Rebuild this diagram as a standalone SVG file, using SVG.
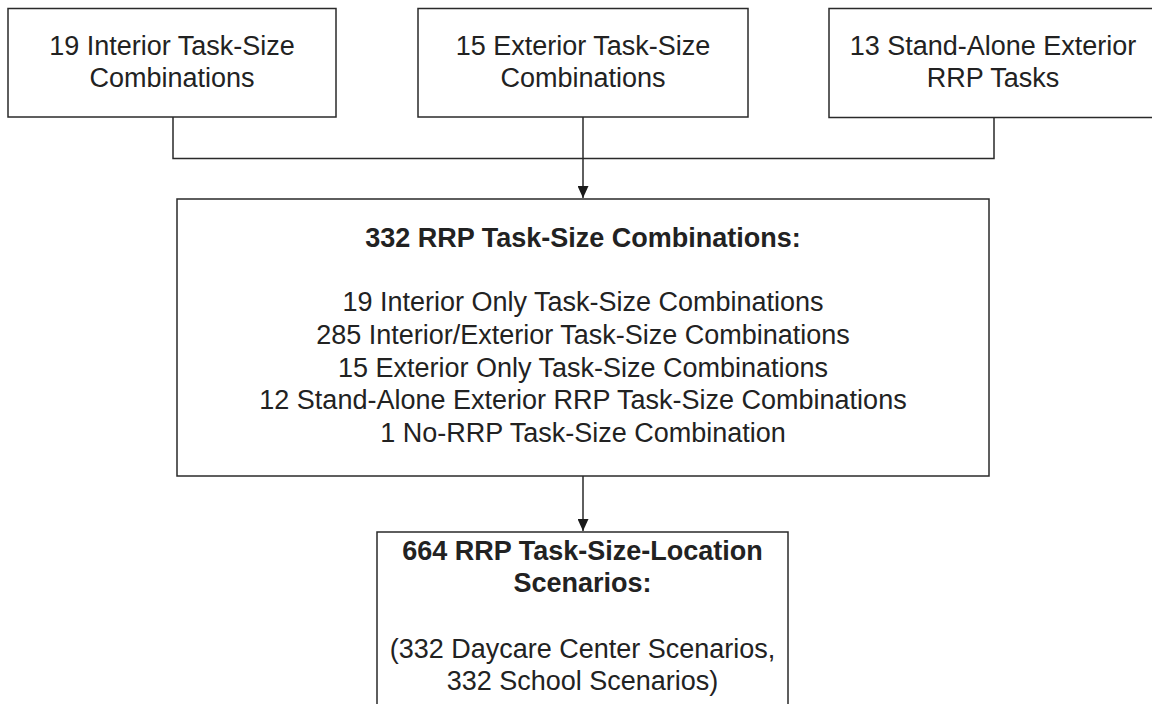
<svg xmlns="http://www.w3.org/2000/svg" width="1152" height="704" viewBox="0 0 1152 704">
  <style>
    .box { fill: #ffffff; stroke: #2a2a2a; stroke-width: 1.5; }
    .t { font-family: Arial, "Liberation Sans", Helvetica, sans-serif; font-size: 27px; fill: #222222; text-anchor: middle; }
    .b { font-weight: bold; }
    .wire { fill: none; stroke: #2a2a2a; stroke-width: 1.5; }
  </style>
  <defs>
    <marker id="arrow" viewBox="0 0 12 11" refX="12" refY="5.5" markerWidth="12" markerHeight="11" markerUnits="userSpaceOnUse" orient="auto">
      <path d="M0,0 L12,5.5 L0,11 Z" fill="#1a1a1a"/>
    </marker>
  </defs>
  <rect width="1152" height="704" fill="#ffffff"/>

  <g id="connectors">
    <path class="wire" d="M173,117 V158.5 H994 V118"/>
    <path class="wire" d="M583,117 V198" marker-end="url(#arrow)"/>
    <path class="wire" d="M583,476 V531" marker-end="url(#arrow)"/>
  </g>

  <g id="interior">
    <rect class="box" x="8" y="8.5" width="328" height="108.5"/>
    <text class="t" x="172" y="55">19 Interior Task-Size</text>
    <text class="t" x="172" y="87">Combinations</text>
  </g>

  <g id="exterior">
    <rect class="box" x="418" y="8.5" width="330" height="108.5"/>
    <text class="t" x="583" y="55">15 Exterior Task-Size</text>
    <text class="t" x="583" y="87">Combinations</text>
  </g>

  <g id="standalone">
    <rect class="box" x="829" y="8.5" width="330" height="109"/>
    <text class="t" x="993" y="55">13 Stand-Alone Exterior</text>
    <text class="t" x="993" y="87">RRP Tasks</text>
  </g>

  <g id="combinations">
    <rect class="box" x="177" y="199" width="812" height="277"/>
    <text class="t b" x="583" y="247">332 RRP Task-Size Combinations:</text>
    <text class="t" x="583" y="311">19 Interior Only Task-Size Combinations</text>
    <text class="t" x="583" y="344">285 Interior/Exterior Task-Size Combinations</text>
    <text class="t" x="583" y="377">15 Exterior Only Task-Size Combinations</text>
    <text class="t" x="583" y="409">12 Stand-Alone Exterior RRP Task-Size Combinations</text>
    <text class="t" x="583" y="442">1 No-RRP Task-Size Combination</text>
  </g>

  <g id="scenarios">
    <rect class="box" x="377" y="532" width="411" height="190"/>
    <text class="t b" x="582.5" y="560">664 RRP Task-Size-Location</text>
    <text class="t b" x="582.5" y="592">Scenarios:</text>
    <text class="t" x="582.5" y="658">(332 Daycare Center Scenarios,</text>
    <text class="t" x="582.5" y="690">332 School Scenarios)</text>
  </g>
</svg>
